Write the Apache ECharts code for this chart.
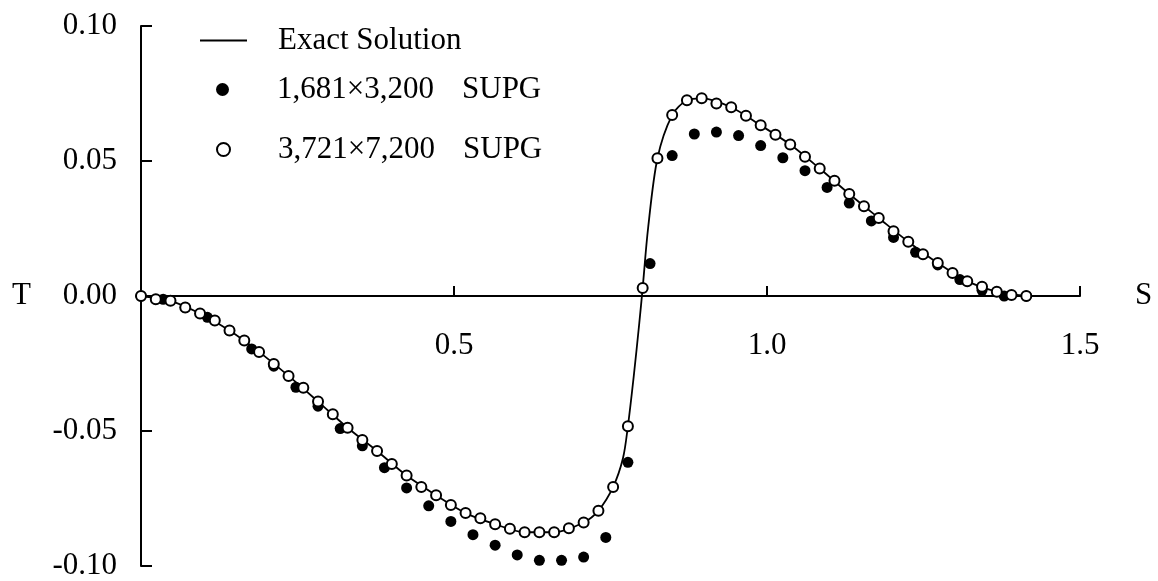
<!DOCTYPE html>
<html>
<head>
<meta charset="utf-8">
<script src="https://cdn.jsdelivr.net/npm/echarts@6/dist/echarts.min.js"></script>
<style>
  html, body { margin: 0; padding: 0; background: #fff; }
  #main { width: 1158px; height: 581px; }
</style>
</head>
<body>
<div id="main"></div>
<script>
// 3,721 x 7,200 SUPG : 61 nodes along the diagonal
var fineS = [0, 0.0236, 0.0471, 0.0707, 0.0943, 0.1179, 0.1414, 0.1650, 0.1886, 0.2121,
  0.2357, 0.2593, 0.2828, 0.3064, 0.3300, 0.3536, 0.3771, 0.4007, 0.4243, 0.4478,
  0.4714, 0.4950, 0.5185, 0.5421, 0.5657, 0.5893, 0.6128, 0.6364, 0.6600, 0.6835,
  0.7071, 0.7307, 0.7542, 0.7778, 0.8014, 0.8250, 0.8485, 0.8721, 0.8957, 0.9192,
  0.9428, 0.9664, 0.9899, 1.0135, 1.0371, 1.0607, 1.0842, 1.1078, 1.1314, 1.1549,
  1.1785, 1.2021, 1.2257, 1.2492, 1.2728, 1.2964, 1.3199, 1.3435, 1.3671, 1.3906, 1.4142];
var fineT = [0, -0.0012, -0.0018, -0.0043, -0.0065, -0.0091, -0.0128, -0.0165, -0.0207, -0.0252,
  -0.0296, -0.0340, -0.0391, -0.0438, -0.0488, -0.0533, -0.0574, -0.0622, -0.0665, -0.0707,
  -0.0738, -0.0774, -0.0804, -0.0823, -0.0845, -0.0862, -0.0875, -0.0875, -0.0875, -0.0860,
  -0.0839, -0.0795, -0.0707, -0.0482, 0.0030, 0.0510, 0.0670, 0.0725, 0.0732, 0.0713,
  0.0699, 0.0668, 0.0632, 0.0597, 0.0561, 0.0516, 0.0472, 0.0427, 0.0378, 0.0332,
  0.0289, 0.0240, 0.0201, 0.0155, 0.0122, 0.0085, 0.0055, 0.0034, 0.0016, 0.0004, 0];

// 1,681 x 3,200 SUPG : 41 nodes along the diagonal
var coarseS = [0, 0.0354, 0.0707, 0.1061, 0.1414, 0.1768, 0.2121, 0.2475, 0.2828, 0.3182,
  0.3536, 0.3889, 0.4243, 0.4596, 0.4950, 0.5303, 0.5657, 0.6010, 0.6364, 0.6718,
  0.7071, 0.7425, 0.7778, 0.8132, 0.8485, 0.8839, 0.9192, 0.9546, 0.9899, 1.0253,
  1.0607, 1.0960, 1.1314, 1.1667, 1.2021, 1.2374, 1.2728, 1.3081, 1.3435, 1.3789, 1.4142];
var coarseT = [0, -0.0012, -0.0043, -0.0079, -0.0128, -0.0196, -0.0260, -0.0338, -0.0408, -0.0491,
  -0.0555, -0.0636, -0.0711, -0.0777, -0.0835, -0.0884, -0.0923, -0.0959, -0.0979, -0.0979,
  -0.0967, -0.0894, -0.0616, 0.0120, 0.0520, 0.0600, 0.0607, 0.0594, 0.0557, 0.0512,
  0.0464, 0.0402, 0.0344, 0.0278, 0.0217, 0.0162, 0.0115, 0.0061, 0.0021, 0.0000, 0];

// exact solution
var exactS = [0, 0.0471, 0.0943, 0.1414, 0.1886, 0.2357, 0.2828, 0.3300, 0.3771, 0.4243,
  0.4714, 0.5185, 0.5657, 0.6128, 0.6600, 0.7071, 0.7307, 0.7542, 0.7700, 0.7778,
  0.7870, 0.7960, 0.8014, 0.8100, 0.8250, 0.8485, 0.8721, 0.8957, 0.9428, 0.9899,
  1.0371, 1.0842, 1.1314, 1.1785, 1.2257, 1.2728, 1.3199, 1.3671, 1.4142];
var exactT = [0, -0.0018, -0.0065, -0.0128, -0.0207, -0.0296, -0.0391, -0.0488, -0.0574, -0.0665,
  -0.0738, -0.0804, -0.0845, -0.0875, -0.0875, -0.0839, -0.0795, -0.0707, -0.0600, -0.0482,
  -0.0300, -0.0100, 0.0030, 0.0250, 0.0510, 0.0670, 0.0725, 0.0732, 0.0699, 0.0632,
  0.0561, 0.0472, 0.0378, 0.0289, 0.0201, 0.0122, 0.0055, 0.0016, 0];

var seriesNames = ['Exact Solution', '1,681\u00d73,200', '3,721\u00d77,200'];
var methodName = 'SUPG';

function pairs(xs, ys) {
  return xs.map(function (x, i) { return [x, ys[i]]; });
}

var font = 'Liberation Serif';
var fs = 31;

var chart = echarts.init(document.getElementById('main'));

function legendFormatter(name) {
  if (name === seriesNames[0]) return '{p|}{t|' + name + '}';
  return '{p|}{a|' + name + '}{t|' + methodName + '}';
}
var legendText = {
  color: '#000', fontFamily: font, fontSize: fs,
  rich: {
    p: { width: 26 },
    a: { width: 185, color: '#000', fontFamily: font, fontSize: fs },
    t: { color: '#000', fontFamily: font, fontSize: fs }
  }
};
// one legend block per entry so each row sits where it does in the figure
function legendAt(name, left, top, icon, h) {
  return {
    data: [{ name: name, icon: icon }], left: left, top: top, padding: 0,
    itemWidth: 47, itemHeight: h, selectedMode: false,
    formatter: legendFormatter, textStyle: legendText
  };
}

var option = {
  animation: false,
  backgroundColor: '#fff',
  grid: { left: 141, top: 26, width: 939, height: 540, containLabel: false, outerBoundsMode: 'none' },
  legend: [
    legendAt(seriesNames[0], 200, 25, 'rect', 2),
    legendAt(seriesNames[1], 216, 74, 'circle', 13),
    legendAt(seriesNames[2], 216, 134, 'circle', 13)
  ],
  xAxis: {
    type: 'value', min: 0, max: 1.5, interval: 0.5,
    position: 'bottom', offset: -270,
    name: 'S', nameLocation: 'end', nameGap: 55,
    nameTextStyle: { color: '#000', fontFamily: font, fontSize: fs },
    axisLine: { onZero: false, lineStyle: { color: '#000', width: 2 } },
    axisTick: { inside: true, length: 10, lineStyle: { color: '#000', width: 2 } },
    axisLabel: {
      margin: 34, color: '#000', fontFamily: font, fontSize: fs,
      formatter: function (v) { return v === 0 ? '' : v.toFixed(1); }
    },
    splitLine: { show: false }
  },
  yAxis: {
    type: 'value', min: -0.1, max: 0.1, interval: 0.05,
    name: 'T', nameLocation: 'middle', nameRotate: 0, nameGap: 110,
    nameTextStyle: { color: '#000', fontFamily: font, fontSize: fs },
    axisLine: { onZero: false, lineStyle: { color: '#000', width: 2 } },
    axisTick: { inside: true, length: 11, lineStyle: { color: '#000', width: 2 } },
    axisLabel: {
      margin: 24, color: '#000', fontFamily: font, fontSize: fs,
      formatter: function (v) { return v.toFixed(2); }
    },
    splitLine: { show: false }
  },
  series: [
    {
      name: seriesNames[0], type: 'line', data: pairs(exactS, exactT),
      symbol: 'none', smooth: 0.3, z: 1,
      lineStyle: { color: '#000', width: 1.8 },
      itemStyle: { color: '#000' }
    },
    {
      name: seriesNames[1], type: 'scatter', data: pairs(coarseS, coarseT),
      symbol: 'circle', symbolSize: 11, z: 2,
      itemStyle: { color: '#000', opacity: 1 }
    },
    {
      name: seriesNames[2], type: 'scatter', data: pairs(fineS, fineT),
      symbol: 'circle', symbolSize: 10, z: 3,
      itemStyle: { color: '#fff', borderColor: '#000', borderWidth: 2, opacity: 1 }
    }
  ]
};
chart.setOption(option);
</script>
</body>
</html>
